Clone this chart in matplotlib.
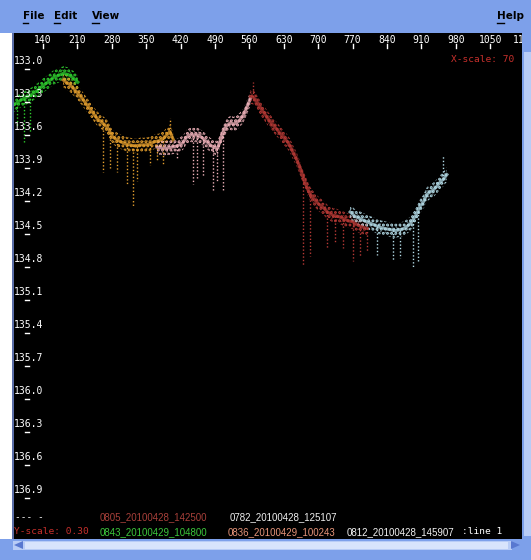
import numpy as np
import matplotlib.pyplot as plt
from matplotlib.patches import Rectangle, Polygon
from matplotlib.lines import Line2D

green_x = [79, 96, 114, 130, 140, 150, 160, 171, 181, 191, 201, 211]
green_y = [133.33, 133.28, 133.24, 133.19, 133.15, 133.12, 133.08, 133.06, 133.04, 133.05, 133.08, 133.12]
orange_x = [181, 194, 209, 220, 230, 240, 250, 261, 271, 282, 297, 308, 317, 328, 338, 348, 358, 368, 378, 385,
            392, 398, 405]
orange_y = [133.10, 133.14, 133.21, 133.27, 133.33, 133.39, 133.45, 133.49, 133.53, 133.62, 133.66, 133.68, 133.69,
            133.70, 133.69, 133.69, 133.68, 133.66, 133.65, 133.63, 133.60, 133.57, 133.64]
pink_x = [372, 384, 392, 403, 413, 425, 432, 439, 447, 454, 459, 465, 473, 480, 487, 495, 500, 506, 513, 521, 528,
          534, 541, 547, 555, 562]
pink_y = [133.71, 133.72, 133.72, 133.71, 133.70, 133.67, 133.62, 133.60, 133.60, 133.60, 133.61, 133.63, 133.66,
          133.69, 133.71, 133.72, 133.66, 133.58, 133.52, 133.49, 133.50, 133.49, 133.46, 133.43, 133.35, 133.27]
red_x = [562, 569, 575, 585, 596, 606, 616, 627, 637, 643, 648, 656, 663, 670, 678, 683, 689, 699, 710, 719, 730,
         741, 751, 761, 771, 781, 792, 800]
red_y = [133.25, 133.26, 133.30, 133.37, 133.44, 133.50, 133.55, 133.61, 133.66, 133.70, 133.75, 133.82, 133.90,
         133.99, 134.08, 134.13, 134.17, 134.22, 134.26, 134.30, 134.33, 134.34, 134.36, 134.38, 134.39, 134.42,
         134.44, 134.45]
blue_x = [765, 775, 785, 794, 805, 815, 826, 836, 846, 857, 867, 875, 881, 887, 893, 900, 907, 914, 921, 927, 934,
          941, 948, 955, 962]
blue_y = [134.30, 134.34, 134.36, 134.38, 134.40, 134.42, 134.44, 134.45, 134.46, 134.47, 134.46, 134.45, 134.43,
          134.41, 134.37, 134.32, 134.25, 134.21, 134.14, 134.12, 134.10, 134.07, 134.03, 134.00, 133.96]

# pointes isolées (x, valeur extrême)
green_spk_x = [87, 101, 114];  green_spk_y = [133.52, 133.66, 133.57]
orange_spk_x = [262, 276, 291, 310, 323, 331, 358, 372, 385, 398]
orange_spk_y = [133.94, 133.90, 133.94, 134.05, 134.25, 134.02, 133.87, 133.84, 133.87, 133.45]
pink_spk_x = [413, 445, 454, 466, 486, 495, 506]
pink_spk_y = [133.82, 134.05, 133.99, 133.97, 134.12, 134.03, 134.10]
red_spk_x = [568, 669, 683, 718, 734, 751, 771, 786, 799]
red_spk_y = [133.12, 134.78, 134.70, 134.63, 134.58, 134.63, 134.75, 134.70, 134.66]
blue_spk_x = [820, 852, 867, 893, 903, 954]
blue_spk_y = [134.69, 134.75, 134.72, 134.81, 134.76, 133.78]

series = [
    (green_x, green_y, green_spk_x, green_spk_y, '#2fd02f'),
    (orange_x, orange_y, orange_spk_x, orange_spk_y, '#e6a02e'),
    (pink_x, pink_y, pink_spk_x, pink_spk_y, '#f2b4bc'),
    (red_x, red_y, red_spk_x, red_spk_y, '#b83a36'),
    (blue_x, blue_y, blue_spk_x, blue_spk_y, '#b4dce8'),
]

x_ticks = [140, 210, 280, 350, 420, 490, 560, 630, 700, 770, 840, 910, 980, 1050, 1120]
y_ticks = [133.0, 133.3, 133.6, 133.9, 134.2, 134.5, 134.8, 135.1, 135.4, 135.7, 136.0, 136.3, 136.6, 136.9]

legend_row1 = [("0805_20100428_142500", '#a8403a', 100), ("0782_20100428_125107", '#eeeeee', 230)]
legend_row2 = [("0843_20100429_104800", '#3cc83c', 100), ("0836_20100429_100243", '#e8957a', 228),
               ("0812_20100428_145907", '#f2f2f2', 347)]

W, H = 531, 560
blue = '#7da0ea'
plt.rcParams['hatch.linewidth'] = 1.4
fig = plt.figure(figsize=(W / 100, H / 100), dpi=100)
fig.patch.set_facecolor('white')


def frect(x0, y0, x1, y1, color):
    # rectangle en pixels (origine en haut à gauche)
    fig.patches.append(Rectangle((x0 / W, 1 - y1 / H), (x1 - x0) / W, (y1 - y0) / H,
                                 transform=fig.transFigure, facecolor=color, edgecolor='none'))


# barre de menu et barres de défilement
frect(0, 0, W, 33, blue)
frect(0, 539, W, H, blue)
frect(13, 541, 512, 550, '#b8ccf6')
frect(25, 542, 508, 549, '#d8e4fc')
frect(522, 33, W, 539, blue)
frect(524, 52, W, 536, '#b8ccf6')
frect(12, 33, 13.5, 539, '#5a6ea8')
for name, px, uw in [("File", 23, 5), ("Edit", 54, 6), ("View", 92, 7), ("Help", 497, 7)]:
    fig.text(px / W, 1 - 16 / H, name, fontsize=7.5, fontweight='bold', color='black',
             family='DejaVu Sans', va='center', ha='left')
    fig.lines.append(Line2D([px / W, (px + uw) / W], [1 - 23 / H, 1 - 23 / H], color='black', lw=1,
                            transform=fig.transFigure))
fig.patches.append(Polygon([(14 / W, 1 - 545 / H), (23 / W, 1 - 541 / H), (23 / W, 1 - 549 / H)],
                           closed=True, transform=fig.transFigure, facecolor='#5878d0', edgecolor='none'))
fig.patches.append(Polygon([(520 / W, 1 - 545 / H), (511 / W, 1 - 541 / H), (511 / W, 1 - 549 / H)],
                           closed=True, transform=fig.transFigure, facecolor='#5878d0', edgecolor='none'))

ax = fig.add_axes([13 / W, 1 - 539 / H, 509 / W, 506 / H])
ax.set_facecolor('black')
x0, x1 = 78.9, 1114.8
y_top, y_bot = 132.673, 137.273
ax.set_xlim(x0, x1)
ax.set_ylim(y_bot, y_top)
ax.set_xticks([])
ax.set_yticks([])
for s in ax.spines.values():
    s.set_visible(False)
xpx = (x1 - x0) / 509   # unités par pixel
ypx = (y_bot - y_top) / 506

for xs, ys, sx, sy, c in series:
    xs = np.array(xs)
    ys = np.array(ys)
    ax.fill_between(xs, ys - 0.065, ys + 0.065, facecolor='none', edgecolor=c, hatch='....', linewidth=0)
    ax.plot(xs, ys, color=c, lw=2.2, alpha=0.75, solid_joinstyle='round')
    ax.plot(xs, ys - 0.03, color=c, lw=1, alpha=0.5, ls=(0, (1, 2)))
    ax.plot(xs, ys + 0.035, color=c, lw=1, alpha=0.5, ls=(0, (1, 2.5)))
    base = np.interp(sx, xs, ys)
    ax.vlines(sx, base, sy, colors=c, linewidth=1, linestyles=(0, (1, 1.5)))

# graduations
for v in x_ticks:
    ax.text(v, y_top + 7 * ypx, str(v), ha='center', va='center', color='white', fontsize=7,
            family='DejaVu Sans Mono', clip_on=True)
    ax.plot([v, v], [y_top + 11 * ypx, y_top + 15 * ypx], color='white', lw=1)
for v in y_ticks:
    ax.text(x0 + 0.5 * xpx, v - 8 * ypx, f"{v:.1f}", ha='left', va='center', color='white', fontsize=7,
            family='DejaVu Sans Mono')
    ax.plot([x0 + 12 * xpx, x0 + 16 * xpx], [v, v], color='white', lw=1)

ax.text(0.985, 1 - 27 / 506, "X-scale: 70", transform=ax.transAxes, color='#c8302c', fontsize=6.8,
        family='DejaVu Sans Mono', ha='right', va='center')
fig.text(15 / W, 1 - 517 / H, "--- -", color='white', fontsize=6.8, family='DejaVu Sans Mono', va='center')
fig.text(14 / W, 1 - 532 / H, "Y-scale: 0.30", color='#c8302c', fontsize=6.8, family='DejaVu Sans Mono',
         va='center')
for txt, col, px in legend_row1:
    fig.text(px / W, 1 - 517 / H, txt, color=col, fontsize=7, family='Liberation Sans', va='center')
for txt, col, px in legend_row2:
    fig.text(px / W, 1 - 532 / H, txt, color=col, fontsize=7, family='Liberation Sans', va='center')
fig.text(462 / W, 1 - 531 / H, ":line 1", color='white', fontsize=6.8, family='DejaVu Sans Mono', va='center')

fig.savefig('out.png', dpi=100, facecolor=fig.get_facecolor())
